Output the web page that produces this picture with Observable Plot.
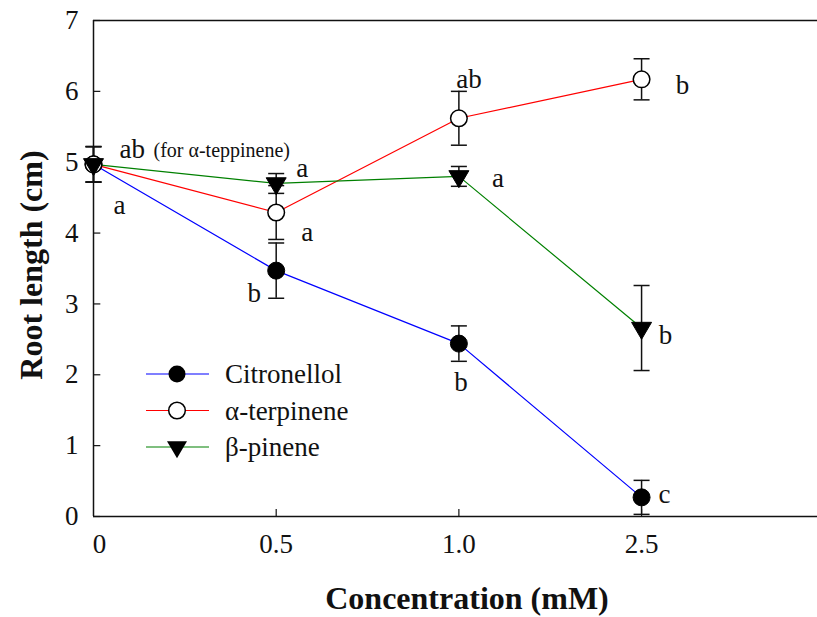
<!DOCTYPE html>
<html>
<head>
<meta charset="utf-8">
<script src="https://cdn.jsdelivr.net/npm/d3@7"></script>
<script src="https://cdn.jsdelivr.net/npm/@observablehq/plot@0.6"></script>
<style>
  html, body { margin: 0; padding: 0; background: #fff; }
  #chart { position: relative; width: 817px; height: 617px; }
</style>
</head>
<body>
<div id="chart"></div>
<script>
// ---- data ----
const concentrations = ["0", "0.5", "1.0", "2.5"];
const citronellol    = [4.97, 3.47, 2.44, 0.27];
const citronellolErr = [0.25, 0.39, 0.25, 0.24];
const aTerpinene     = [4.97, 4.29, 5.62, 6.17];
const aTerpineneErr  = [0.25, 0.38, 0.38, 0.29];
const bPinene        = [4.97, 4.70, 4.80, 2.66];
const bPineneErr     = [0.25, 0.14, 0.14, 0.60];
const yTicks = [0, 1, 2, 3, 4, 5, 6, 7];
const seriesNames = ["Citronellol", "α-terpinene", "β-pinene"];
const xTitle = "Concentration (mM)";
const yTitle = "Root length (cm)";

// letters of significance: [label, series index, concentration index]
const annotationLabels = [
  ["ab", 1, 0], ["(for α-teppinene)", 1, 0], ["a", 0, 0],
  ["a", 2, 1], ["a", 1, 1], ["b", 0, 1],
  ["ab", 1, 2], ["a", 2, 2], ["b", 0, 2],
  ["b", 1, 3], ["b", 2, 3], ["c", 0, 3]
];
// placement/style of each annotation (pixels)
const annotationPlacement = [
  {dx: 26, dy: -15, anchor: "start", size: 27},
  {dx: 60, dy: -14, anchor: "start", size: 20},
  {dx: 26, dy: 41, anchor: "middle", size: 27},
  {dx: 26, dy: -15, anchor: "middle", size: 27},
  {dx: 31, dy: 20, anchor: "middle", size: 27},
  {dx: -22, dy: 23, anchor: "middle", size: 27},
  {dx: 10, dy: -39, anchor: "middle", size: 27},
  {dx: 39, dy: 2, anchor: "middle", size: 27},
  {dx: 2, dy: 39, anchor: "middle", size: 27},
  {dx: 41, dy: 6, anchor: "middle", size: 27},
  {dx: 24, dy: 7, anchor: "middle", size: 27},
  {dx: 23, dy: -3, anchor: "middle", size: 27}
];

// ---- build tables ----
const seriesValues = [citronellol, aTerpinene, bPinene];
const seriesErr = [citronellolErr, aTerpineneErr, bPineneErr];
const colors = ["#0000ff", "#ff0000", "#008000"];
const FONT = "'Liberation Serif', 'Times New Roman', serif";

const triDown = {draw(ctx) { ctx.moveTo(-10, -5.7); ctx.lineTo(10, -5.7); ctx.lineTo(0, 11.3); ctx.closePath(); }};
const capSym = {draw(ctx) { ctx.moveTo(-8, 0); ctx.lineTo(8, 0); }};

const tables = seriesValues.map((vals, s) =>
  vals.map((v, i) => ({series: seriesNames[s], i, v, lo: v - seriesErr[s][i], hi: v + seriesErr[s][i]}))
);

const marks = [];
// frame lines
marks.push(Plot.ruleY([0], {stroke: "#111", strokeWidth: 1.5}));
marks.push(Plot.ruleY([7], {stroke: "#111", strokeWidth: 1.5}));
marks.push(Plot.ruleX([0], {y1: 0, y2: 7, stroke: "#111", strokeWidth: 1.5}));
// inward ticks
marks.push(Plot.ruleY(yTicks, {x1: 0, x2: 0.04, stroke: "#111", strokeWidth: 1.2}));
marks.push(Plot.ruleX(concentrations.map((c, i) => i).filter(i => i > 0), {y1: 0, y2: 0.1, stroke: "#111", strokeWidth: 1.2}));
// tick labels
marks.push(Plot.text(yTicks, {x: 0, y: d => d, text: d => String(d), textAnchor: "end", dx: -15, fontSize: 27, fontFamily: FONT, fill: "#111"}));
marks.push(Plot.text(concentrations.slice(0, 1), {x: 0, y: 0, text: d => d, dx: 6, dy: 28, fontSize: 27, fontFamily: FONT, fill: "#111"}));
marks.push(Plot.text(concentrations.slice(1), {x: (d, k) => k + 1, y: 0, text: d => d, dy: 28, fontSize: 27, fontFamily: FONT, fill: "#111"}));
// lines
tables.forEach((t, s) => marks.push(Plot.line(t, {x: "i", y: "v", stroke: colors[s], strokeWidth: 1.2})));
// error bars
tables.forEach(t => {
  marks.push(Plot.ruleX(t, {x: "i", y1: "lo", y2: "hi", stroke: "#111", strokeWidth: 1.5}));
  marks.push(Plot.dot(t, {x: "i", y: "lo", symbol: capSym, stroke: "#111", strokeWidth: 1.5, fill: "none"}));
  marks.push(Plot.dot(t, {x: "i", y: "hi", symbol: capSym, stroke: "#111", strokeWidth: 1.5, fill: "none"}));
});
// markers
marks.push(Plot.dot(tables[0], {x: "i", y: "v", r: 8.5, fill: "#000", stroke: "#000", strokeWidth: 1}));
marks.push(Plot.dot(tables[1], {x: "i", y: "v", r: 8.3, fill: "#fff", stroke: "#000", strokeWidth: 1.5}));
marks.push(Plot.dot(tables[2], {x: "i", y: "v", symbol: triDown, fill: "#000", stroke: "#000", strokeWidth: 1}));
// annotations
annotationLabels.forEach(([label, s, i], k) => {
  const p = annotationPlacement[k];
  marks.push(Plot.text([label], {x: () => i, y: () => seriesValues[s][i], text: d => d,
    dx: p.dx, dy: p.dy, textAnchor: p.anchor, fontSize: p.size, fontFamily: FONT, fill: "#111"}));
});

const plot = Plot.plot({
  width: 817,
  height: 617,
  marginLeft: 93,
  marginTop: 20,
  marginRight: 0,
  marginBottom: 101,
  x: {type: "linear", domain: [0, 3.963], axis: null},
  y: {type: "linear", domain: [0, 7], axis: null},
  style: {fontFamily: FONT, background: "#fff", overflow: "visible"},
  marks
});
document.getElementById("chart").appendChild(plot);

const svg = d3.select(plot);
// axis titles
svg.append("text").attr("x", 467).attr("y", 609).attr("text-anchor", "middle")
  .attr("font-size", 32).attr("font-weight", "bold").attr("font-family", FONT).attr("fill", "#111").text(xTitle);
svg.append("text").attr("transform", "translate(42,265) rotate(-90)").attr("text-anchor", "middle")
  .attr("font-size", 32).attr("font-weight", "bold").attr("font-family", FONT).attr("fill", "#111").text(yTitle);

// legend
const lg = svg.append("g");
const rowY = [374, 410.5, 447];
seriesNames.forEach((name, s) => {
  const y = rowY[s];
  lg.append("line").attr("x1", 146).attr("x2", 209).attr("y1", y).attr("y2", y)
    .attr("stroke", colors[s]).attr("stroke-width", 1.2);
  if (s === 0) {
    lg.append("circle").attr("cx", 177).attr("cy", y).attr("r", 8.5).attr("fill", "#000");
  } else if (s === 1) {
    lg.append("circle").attr("cx", 177).attr("cy", y).attr("r", 8.3).attr("fill", "#fff").attr("stroke", "#000").attr("stroke-width", 1.5);
  } else {
    lg.append("path").attr("d", d3.symbol().type(triDown)()).attr("transform", `translate(177,${y})`).attr("fill", "#000");
  }
  lg.append("text").attr("x", 225).attr("y", y + 9).attr("font-size", 27).attr("text-anchor", "start")
    .attr("font-family", FONT).attr("fill", "#111").text(name);
});
</script>
</body>
</html>
